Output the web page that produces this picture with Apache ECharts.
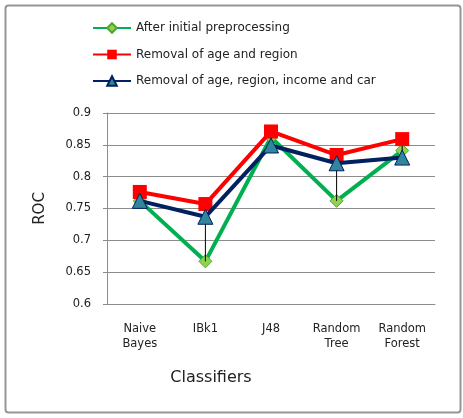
<!DOCTYPE html>
<html><head><meta charset="utf-8">
<script src="https://cdn.jsdelivr.net/npm/echarts@6/dist/echarts.min.js"></script>
<style>html,body{margin:0;padding:0;background:#fff}#c{width:463px;height:418px}</style>
</head><body><div id="c"></div>
<script>
const categories = ['Naive\nBayes', 'IBk1', 'J48', 'Random\nTree', 'Random\nForest'];
const seriesNames = ['After initial preprocessing', 'Removal of age and region', 'Removal of age, region, income and car'];
const afterInitial = [0.762, 0.667, 0.862, 0.762, 0.841];
const removalAgeRegion = [0.776, 0.757, 0.871, 0.834, 0.859];
const removalAll = [0.762, 0.737, 0.849, 0.821, 0.830];
const yTicks = [0.6, 0.65, 0.7, 0.75, 0.8, 0.85, 0.9];

const hiLo = categories.map((c, i) => {
  const v = [afterInitial[i], removalAgeRegion[i], removalAll[i]];
  return [i, Math.min(...v), Math.max(...v)];
});

const font = 'DejaVu Sans, Verdana, sans-serif';
const chart = echarts.init(document.getElementById('c'), null, {renderer: 'canvas'});
chart.setOption({
  animation: false,
  backgroundColor: '#fff',
  graphic: [{
    type: 'rect', left: 3, top: 3, silent: true,
    shape: {width: 455, height: 407, r: 3},
    style: {fill: 'none', stroke: '#969696', lineWidth: 2}
  }],
  legend: {
    orient: 'vertical', left: 87, top: 17, itemGap: 14.5,
    itemWidth: 38, itemHeight: 12,
    textStyle: {fontFamily: font, fontSize: 12, color: '#222'},
    data: seriesNames
  },
  grid: {left: 107, right: 28, top: 113, bottom: 114},
  xAxis: {
    type: 'category', data: categories, boundaryGap: true,
    axisLine: {lineStyle: {color: '#8c8c8c', width: 1}},
    axisTick: {show: false},
    axisLabel: {fontFamily: font, fontSize: 11.5, color: '#222', margin: 18, lineHeight: 15, interval: 0},
    name: 'Classifiers', nameLocation: 'middle', nameGap: 66,
    nameTextStyle: {fontFamily: font, fontSize: 16, color: '#222', padding: [0, 0, 0, -120]}
  },
  yAxis: {
    type: 'value', min: 0.6, max: 0.9, interval: 0.05,
    axisLine: {show: true, lineStyle: {color: '#8c8c8c'}},
    axisTick: {show: true, length: 4, lineStyle: {color: '#8c8c8c'}},
    splitLine: {lineStyle: {color: '#8c8c8c', width: 1}},
    axisLabel: {fontFamily: font, fontSize: 11.5, color: '#222', margin: 16,
      formatter: v => { const t = yTicks.find(x => Math.abs(x - v) < 1e-6); return t === undefined ? '' : String(t); }},
    name: 'ROC', nameLocation: 'middle', nameGap: 59, nameRotate: 90,
    nameTextStyle: {fontFamily: font, fontSize: 15, color: '#222'}
  },
  series: [
    {
      type: 'custom', name: 'hilo', silent: true, z: 3,
      data: hiLo,
      renderItem: (params, api) => {
        const p1 = api.coord([api.value(0), api.value(1)]);
        const p2 = api.coord([api.value(0), api.value(2)]);
        return {type: 'line', shape: {x1: p1[0], y1: p1[1], x2: p2[0], y2: p2[1]}, style: {stroke: '#000', lineWidth: 1}};
      }
    },
    {
      name: seriesNames[0], type: 'line', data: afterInitial, z: 2,
      symbol: 'diamond', symbolSize: 13,
      lineStyle: {color: '#00B050', width: 4},
      itemStyle: {color: '#92D050', borderColor: '#4EA72E', borderWidth: 1}
    },
    {
      name: seriesNames[1], type: 'line', data: removalAgeRegion, z: 4,
      symbol: 'rect', symbolSize: 14,
      lineStyle: {color: '#FF0000', width: 4},
      itemStyle: {color: '#FF0000', borderColor: '#FF0000', borderWidth: 0}
    },
    {
      name: seriesNames[2], type: 'line', data: removalAll, z: 5,
      symbol: 'triangle', symbolSize: 15,
      lineStyle: {color: '#002060', width: 4},
      itemStyle: {color: '#31859C', borderColor: '#002060', borderWidth: 1}
    }
  ]
});
</script></body></html>
